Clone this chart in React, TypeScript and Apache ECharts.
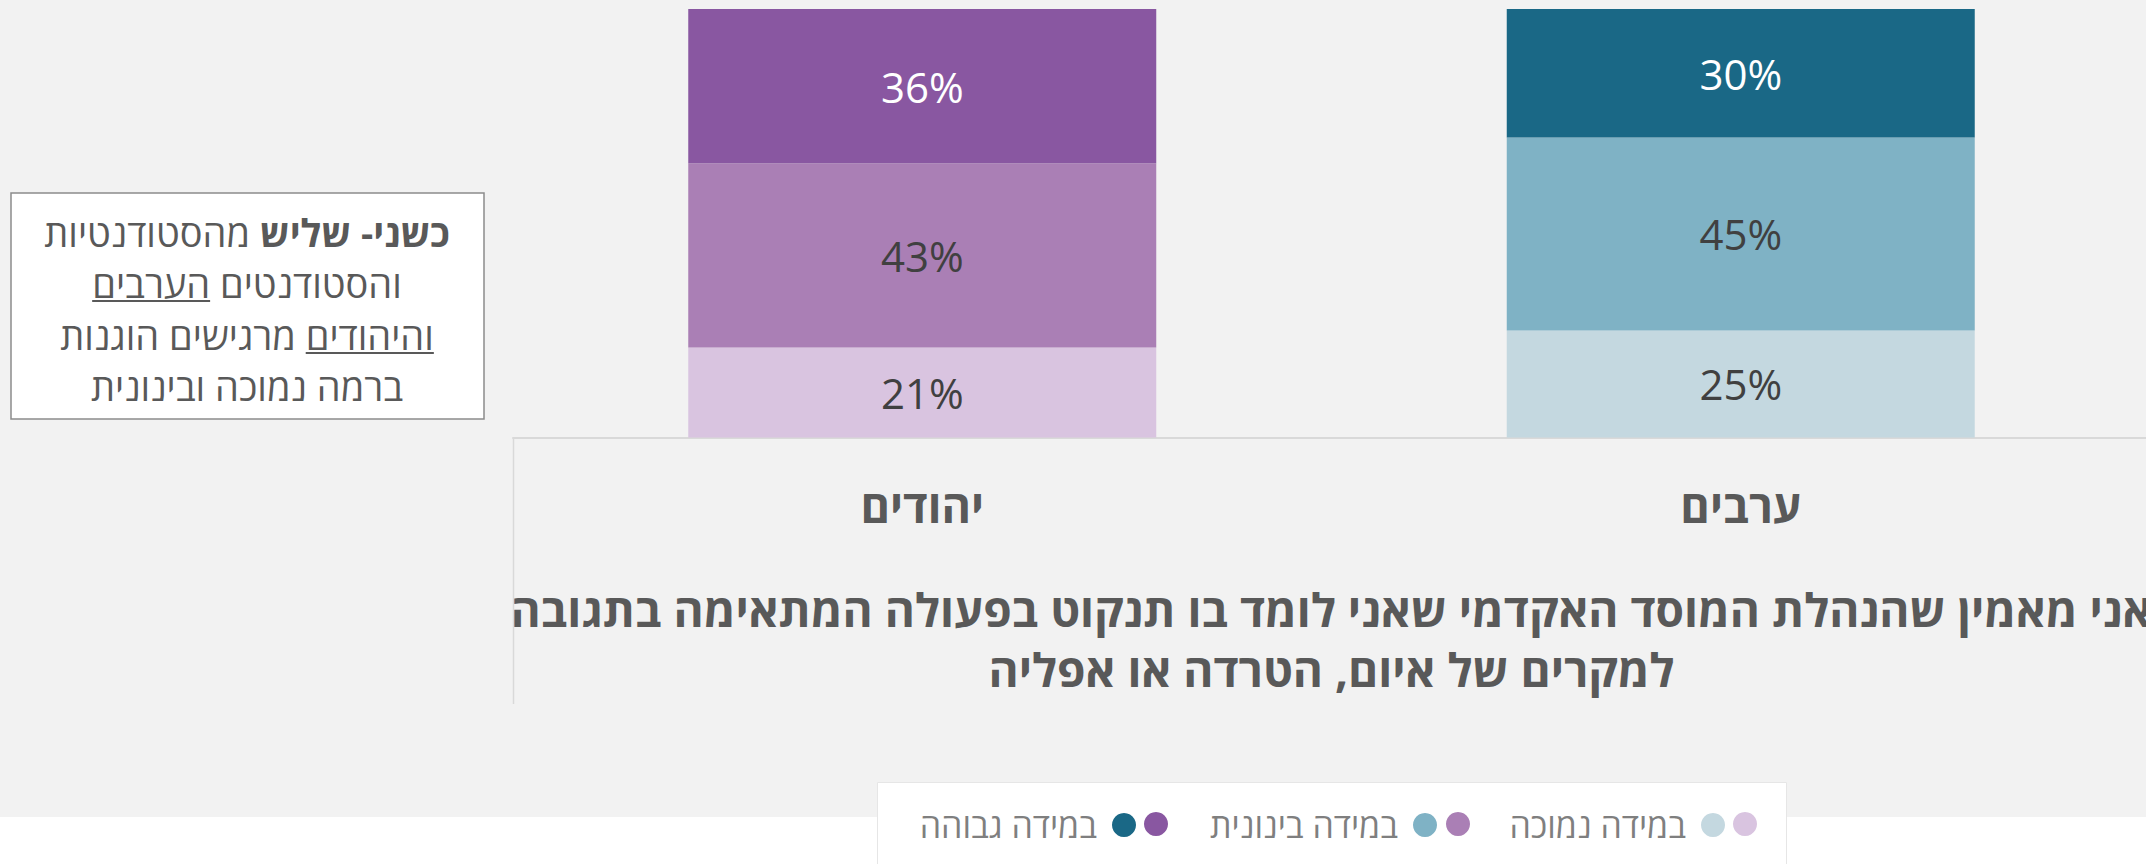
import React, { useEffect, useRef } from 'react';
import * as echarts from 'echarts';

// ---- data ----
const categories = ['יהודים', 'ערבים'];
const levels = ['במידה נמוכה', 'במידה בינונית', 'במידה גבוהה'];
const jewsValues = [21, 43, 36];
const arabsValues = [25, 45, 30];
const jewsColors = ['#D9C4E0', '#AA7FB5', '#8957A1'];
const arabsColors = ['#C4D8E0', '#7FB2C5', '#1A6886'];
const labelColors = ['#404040', '#404040', '#FFFFFF'];
const axisTitleLines = [
  'אני מאמין שהנהלת המוסד האקדמי שאני לומד בו תנקוט בפעולה המתאימה בתגובה',
  'למקרים של איום, הטרדה או אפליה',
];
// note box: each line is a list of fragments in logical (RTL) order
const noteLines = [
  [{ t: 'כשני- שליש', b: true }, { t: ' ' }, { t: 'מהסטודנטיות' }],
  [{ t: 'והסטודנטים' }, { t: ' ' }, { t: 'הערבים', u: true }],
  [{ t: 'והיהודים', u: true }, { t: ' ' }, { t: 'מרגישים הוגנות' }],
  [{ t: 'ברמה נמוכה ובינונית' }],
];

const HEB = '"Open Sans", "DejaVu Sans", sans-serif';
const NUM = '"Open Sans", "Noto Sans", sans-serif';
const GREY = '#595959';
const LEGEND_GREY = '#7F7F7F';

export default function App() {
  const ref = useRef<HTMLDivElement>(null);
  useEffect(() => {
    if (!ref.current) return;
    const chart = echarts.init(ref.current, undefined, { renderer: 'svg' });

    // ---- note box text layout ----
    const canvas = document.createElement('canvas');
    const ctx = canvas.getContext('2d')!;
    const noteSize = 38;
    const noteCx = 247;
    const noteY = [232, 283, 335, 386];
    const noteEls: any[] = [];
    noteLines.forEach((line, i) => {
      const frags = line.map((f: any) => {
        ctx.font = `${f.b ? 'bold' : 'normal'} ${noteSize}px ${HEB}`;
        return { ...f, w: ctx.measureText(f.t).width };
      });
      const total = frags.reduce((s, f) => s + f.w, 0);
      let x = noteCx - total / 2;
      [...frags].reverse().forEach((f: any) => {
        if (f.t.trim()) {
          noteEls.push({
            type: 'text',
            x,
            y: noteY[i],
            z: 20,
            style: {
              text: f.t,
              fill: GREY,
              fontSize: noteSize,
              fontFamily: HEB,
              fontWeight: f.b ? 'bold' : 'normal',
              align: 'left',
              verticalAlign: 'middle',
            },
          });
          if (f.u) {
            noteEls.push({
              type: 'line',
              z: 20,
              shape: { x1: x, y1: noteY[i] + 18, x2: x + f.w, y2: noteY[i] + 18 },
              style: { stroke: GREY, lineWidth: 2 },
            });
          }
        }
        x += f.w;
      });
    });

    const groupDefs = [
      { vals: jewsValues, colors: jewsColors, idx: 0, tag: 'יהודים' },
      { vals: arabsValues, colors: arabsColors, idx: 1, tag: 'ערבים' },
    ];
    const series: any[] = [];
    levels.forEach((lvl, li) => {
      groupDefs.forEach((g) => {
        series.push({
          type: 'bar',
          name: `${lvl} – ${g.tag}`,
          stack: 'total',
          barWidth: 468,
          data: categories.map((_, ci) => (ci === g.idx ? g.vals[li] : '-')),
          itemStyle: { color: g.colors[li] },
          label: {
            show: true,
            position: 'inside',
            formatter: '{c}%',
            color: labelColors[li],
            fontSize: 42,
            fontFamily: NUM,
          },
        });
      });
    });

    // one legend per symbol; right edge of each dot
    const tealRight = [1725, 1437, 1136]; // low, mid, high
    const purpleRight = [1757, 1470, 1168];
    const legends: any[] = [];
    levels.forEach((lvl, li) => {
      const common = {
        orient: 'horizontal',
        align: 'right',
        icon: 'circle',
        itemWidth: 24,
        itemHeight: 24,
        padding: 0,
        selectedMode: false,
      };
      legends.push({
        ...common,
        top: 808,
        right: 2146 - tealRight[li],
        formatter: (name: string) => name.split(' – ')[0],
        textStyle: { color: LEGEND_GREY, fontSize: 34, fontFamily: HEB, padding: [0, 10, 0, 0] },
        data: [`${lvl} – ערבים`],
      });
      legends.push({
        ...common,
        top: 812,
        right: 2146 - purpleRight[li],
        formatter: () => '',
        textStyle: { color: LEGEND_GREY, fontSize: 34, fontFamily: HEB },
        data: [`${lvl} – יהודים`],
      });
    });

    chart.setOption({
      animation: false,
      backgroundColor: '#FFFFFF',
      grid: { left: 513, top: 9, width: 1637, height: 428.5, outerBoundsMode: 'none' },
      xAxis: {
        type: 'category',
        data: categories,
        axisLine: { show: true, lineStyle: { color: '#D9D9D9', width: 2 } },
        axisTick: { show: false },
        splitLine: { show: false },
        axisLabel: {
          color: GREY,
          fontSize: 45,
          fontWeight: 'bold',
          fontFamily: HEB,
          margin: 45,
        },
        name: axisTitleLines.join('\n'),
        nameLocation: 'middle',
        nameGap: 141,
        nameTextStyle: {
          color: GREY,
          fontSize: 46,
          fontWeight: 'bold',
          fontFamily: HEB,
          lineHeight: 60,
        },
      },
      yAxis: { type: 'value', min: 0, max: 100, show: false },
      legend: legends,
      graphic: [
        { type: 'rect', z: -10, shape: { x: 0, y: 0, width: 2146, height: 817 }, style: { fill: '#F2F2F2' } },
        {
          type: 'rect',
          z: -5,
          shape: { x: 877.5, y: 782.5, width: 909, height: 100 },
          style: { fill: '#FFFFFF', stroke: '#E6E6E6', lineWidth: 1 },
        },
        {
          type: 'line',
          z: 1,
          shape: { x1: 513.5, y1: 438, x2: 513.5, y2: 704 },
          style: { stroke: '#D9D9D9', lineWidth: 1.5 },
        },
        {
          type: 'rect',
          z: 10,
          shape: { x: 11, y: 193, width: 473, height: 226 },
          style: { fill: '#FFFFFF', stroke: '#8C8C8C', lineWidth: 1.5 },
        },
        ...noteEls,
      ],
      series,
    });
    return () => chart.dispose();
  }, []);
  return <div ref={ref} style={{ position: 'fixed', left: 0, top: 0, width: 2146, height: 864 }} />;
}
